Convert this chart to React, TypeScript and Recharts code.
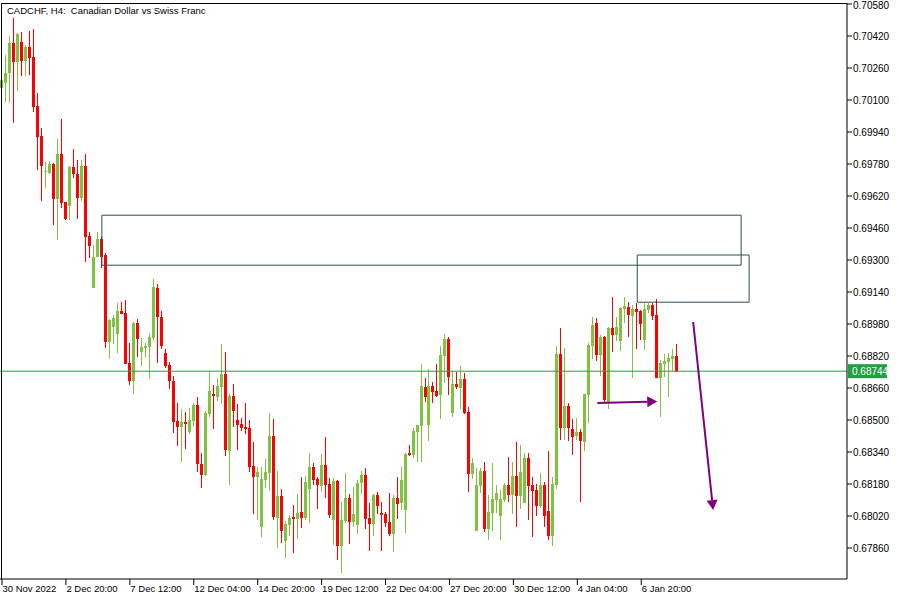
import { ComposedChart, Bar, XAxis, YAxis, ReferenceLine } from "recharts";

// H4 candles, oldest first
const opens = [
  0.7016, 0.70185, 0.70235, 0.70385, 0.7029, 0.7039, 0.70295, 0.70365, 0.70315, 0.7007,
  0.6992, 0.6974, 0.69735, 0.6978, 0.69605, 0.6983, 0.6959, 0.6957, 0.69765, 0.6973,
  0.6961, 0.6977, 0.6942, 0.6916, 0.69315, 0.69405, 0.69325, 0.6889, 0.68965, 0.6893,
  0.69045, 0.69035, 0.68785, 0.68695, 0.68985, 0.6884, 0.6886, 0.68865, 0.6891, 0.6916,
  0.69015, 0.68835, 0.68775, 0.68695, 0.68495, 0.68465, 0.6849, 0.6844, 0.68495, 0.68575,
  0.6828, 0.68225, 0.6853, 0.6863, 0.68615, 0.68665, 0.6873, 0.68345, 0.6862, 0.685,
  0.6848, 0.68465, 0.6846, 0.6827, 0.68215, 0.67965, 0.682, 0.68235, 0.6842, 0.6801,
  0.6812, 0.67895, 0.67975, 0.68015, 0.68005, 0.6804, 0.6801, 0.68155, 0.68265, 0.68205,
  0.6817, 0.68275, 0.6818, 0.68, 0.68195, 0.6787, 0.67995, 0.6811, 0.6799, 0.67975,
  0.68185, 0.68225, 0.6801, 0.6798, 0.68125, 0.68035, 0.6803, 0.6799, 0.6793, 0.6811,
  0.68085, 0.6805, 0.68335, 0.68325, 0.6844, 0.6847, 0.68665, 0.68475, 0.6867, 0.68645,
  0.68625, 0.6882, 0.68905, 0.68535, 0.6868, 0.6866, 0.68705, 0.6854, 0.6823, 0.67945,
  0.6817, 0.68245, 0.67955, 0.68035, 0.681, 0.6802, 0.681, 0.68175, 0.68125, 0.6822,
  0.6812, 0.68085, 0.6831, 0.68175, 0.6815, 0.6807, 0.68175, 0.68045, 0.6792, 0.68175,
  0.6883, 0.6846, 0.6857, 0.68455, 0.6842, 0.6844, 0.6839, 0.68625, 0.6887, 0.68985,
  0.68825, 0.68915, 0.6859, 0.6896, 0.68925, 0.68895, 0.69055, 0.69065, 0.6902, 0.69055,
  0.69045, 0.689, 0.6905, 0.69075, 0.69025, 0.6871, 0.6878, 0.6879, 0.68805, 0.6882,
];
const highs = [
  0.7026, 0.70325, 0.7042, 0.7051, 0.70435, 0.7044, 0.70375, 0.70445, 0.70455, 0.70135,
  0.6996, 0.6979, 0.69795, 0.69785, 0.69905, 0.70005, 0.6959, 0.6977, 0.69855, 0.698,
  0.698, 0.6983, 0.6944, 0.69375, 0.6944, 0.6942, 0.69335, 0.69005, 0.69025, 0.69085,
  0.6909, 0.691, 0.68885, 0.6899, 0.69005, 0.6891, 0.68885, 0.68935, 0.69205, 0.6918,
  0.69045, 0.68855, 0.6879, 0.6872, 0.68585, 0.68555, 0.6854, 0.6856, 0.68585, 0.68615,
  0.68335, 0.68545, 0.68745, 0.68675, 0.6871, 0.6888, 0.6884, 0.6863, 0.6868, 0.6858,
  0.6851, 0.68585, 0.685, 0.6839, 0.68265, 0.68265, 0.68305, 0.68535, 0.68505, 0.68245,
  0.68155, 0.67995, 0.68025, 0.68075, 0.6813, 0.68215, 0.6822, 0.68335, 0.68285, 0.68215,
  0.6833, 0.68415, 0.6821, 0.6821, 0.682, 0.6809, 0.68235, 0.6813, 0.68165, 0.682,
  0.68245, 0.6826, 0.68085, 0.6813, 0.6814, 0.6809, 0.6804, 0.68135, 0.68125, 0.68215,
  0.68265, 0.68335, 0.68375, 0.6846, 0.68475, 0.6878, 0.6871, 0.68755, 0.6869, 0.6878,
  0.6887, 0.6893, 0.68915, 0.68745, 0.6874, 0.6877, 0.68735, 0.68565, 0.6831, 0.6826,
  0.6826, 0.6829, 0.68125, 0.68285, 0.68175, 0.6815, 0.68185, 0.68315, 0.6829, 0.6839,
  0.68375, 0.68335, 0.68335, 0.68215, 0.6818, 0.68235, 0.6819, 0.68345, 0.68215, 0.6887,
  0.6896, 0.6886, 0.68585, 0.68505, 0.6851, 0.68455, 0.6863, 0.68885, 0.69015, 0.6901,
  0.68925, 0.6892, 0.68965, 0.69115, 0.69015, 0.69065, 0.69115, 0.6909, 0.69075, 0.69085,
  0.6905, 0.69085, 0.69085, 0.69085, 0.69105, 0.688, 0.6883, 0.68835, 0.68855, 0.6888,
];
const lows = [
  0.701, 0.7009, 0.70085, 0.69985, 0.70145, 0.7022, 0.7022, 0.70225, 0.7004, 0.6975,
  0.69595, 0.6966, 0.6973, 0.69475, 0.694, 0.6956, 0.695, 0.695, 0.6971, 0.69505,
  0.69595, 0.6929, 0.6931, 0.6916, 0.69315, 0.6926, 0.6886, 0.68805, 0.6888, 0.68835,
  0.6903, 0.6878, 0.68675, 0.6863, 0.68815, 0.6877, 0.68815, 0.68705, 0.689, 0.68785,
  0.68855, 0.6876, 0.68655, 0.68435, 0.6837, 0.6829, 0.68355, 0.6843, 0.6847, 0.6824,
  0.6816, 0.6822, 0.68515, 0.68455, 0.68595, 0.6858, 0.6832, 0.68175, 0.68465, 0.6835,
  0.68445, 0.6843, 0.6824, 0.6803, 0.68, 0.67915, 0.6816, 0.68145, 0.68, 0.6786,
  0.67885, 0.6781, 0.6792, 0.67835, 0.67905, 0.6796, 0.68, 0.67985, 0.68175, 0.68055,
  0.6814, 0.6811, 0.6801, 0.67875, 0.678, 0.67735, 0.67985, 0.6788, 0.67965, 0.6793,
  0.6813, 0.67955, 0.67845, 0.6792, 0.6803, 0.67845, 0.67965, 0.6792, 0.6784, 0.68005,
  0.6805, 0.67935, 0.6832, 0.6831, 0.6829, 0.6829, 0.6859, 0.68395, 0.68585, 0.68615,
  0.68505, 0.68685, 0.68625, 0.68515, 0.68655, 0.68555, 0.6853, 0.6814, 0.68205, 0.67945,
  0.68135, 0.6794, 0.679, 0.67945, 0.68035, 0.679, 0.6809, 0.6809, 0.6803, 0.67965,
  0.68055, 0.68085, 0.68, 0.67915, 0.6802, 0.6806, 0.67965, 0.679, 0.6787, 0.68155,
  0.684, 0.684, 0.68395, 0.68325, 0.684, 0.6809, 0.68345, 0.68485, 0.68805, 0.68795,
  0.6872, 0.68585, 0.68555, 0.6884, 0.68895, 0.68845, 0.68985, 0.68915, 0.6871, 0.68855,
  0.689, 0.6885, 0.69035, 0.69, 0.6871, 0.68515, 0.68715, 0.68615, 0.68745, 0.6874,
];
const closes = [
  0.702, 0.70235, 0.70385, 0.7029, 0.7043, 0.70295, 0.70365, 0.7031, 0.70065, 0.69915,
  0.6977, 0.69745, 0.6978, 0.69605, 0.6983, 0.69585, 0.69505, 0.69765, 0.6973, 0.6961,
  0.6977, 0.69415, 0.6937, 0.69315, 0.69405, 0.69315, 0.6889, 0.69, 0.6901, 0.69045,
  0.6903, 0.6878, 0.68695, 0.68985, 0.68905, 0.68865, 0.6887, 0.68915, 0.69165, 0.69015,
  0.6887, 0.6877, 0.68695, 0.6849, 0.68465, 0.6849, 0.6848, 0.685, 0.68575, 0.6828,
  0.68225, 0.68535, 0.68645, 0.6862, 0.6867, 0.6873, 0.6835, 0.6862, 0.68545, 0.68475,
  0.6846, 0.68455, 0.68265, 0.68215, 0.6824, 0.68205, 0.6824, 0.6842, 0.68015, 0.6812,
  0.67945, 0.6798, 0.6801, 0.68005, 0.68035, 0.6801, 0.6819, 0.68265, 0.682, 0.68175,
  0.68275, 0.68175, 0.68025, 0.68195, 0.6787, 0.68, 0.6811, 0.6799, 0.6803, 0.68185,
  0.68225, 0.68005, 0.6798, 0.68125, 0.6807, 0.68025, 0.67985, 0.6793, 0.6811, 0.6808,
  0.682, 0.6833, 0.68325, 0.68445, 0.68475, 0.6867, 0.68615, 0.6867, 0.6864, 0.6862,
  0.68825, 0.68905, 0.68715, 0.6868, 0.68665, 0.68705, 0.68535, 0.6823, 0.68285, 0.68175,
  0.68245, 0.67955, 0.6804, 0.68105, 0.68135, 0.68105, 0.68175, 0.68125, 0.6822, 0.6812,
  0.6824, 0.6831, 0.6817, 0.68145, 0.6807, 0.68175, 0.6802, 0.6792, 0.6818, 0.6883,
  0.6846, 0.6857, 0.6846, 0.68415, 0.6844, 0.68395, 0.6863, 0.68875, 0.68975, 0.68825,
  0.68915, 0.686, 0.6896, 0.68925, 0.68965, 0.6906, 0.6907, 0.69025, 0.69055, 0.6904,
  0.6898, 0.69055, 0.69075, 0.6902, 0.6871, 0.68785, 0.68795, 0.6881, 0.6882, 0.68744,
];

const FUTURE_BARS = 42;
const lastPrice = 0.68744;

const timeLabels = [
  "30 Nov 2022", "2 Dec 20:00", "7 Dec 12:00", "12 Dec 04:00", "14 Dec 20:00", "19 Dec 12:00",
  "22 Dec 04:00", "27 Dec 20:00", "30 Dec 12:00", "4 Jan 04:00", "6 Jan 20:00",
];
const priceTicks = [
  0.6786, 0.6802, 0.6818, 0.6834, 0.685, 0.6866, 0.6882, 0.6898, 0.6914,
  0.693, 0.6946, 0.6962, 0.6978, 0.6994, 0.701, 0.7026, 0.7042, 0.7058,
];

// supply zones drawn on the chart: bar index range and price bounds
const zones = [
  { from: 25, to: 185, top: 0.69524, bottom: 0.69274 },
  { from: 159, to: 187, top: 0.69325, bottom: 0.69089 },
];
// purple arrows: [bar index, price] start and tip
const arrows = [
  { from: [149, 0.68585], to: [164, 0.68593] },
  { from: [173, 0.6899], to: [178, 0.6805] },
];

const GREEN = "#80c342";
const RED = "#ff0000";
const FONT = "'Liberation Sans', Arial, sans-serif";

const data = [
  ...opens.map((open, i) => ({ i, open, close: closes[i], range: [lows[i], highs[i]] })),
  ...Array.from({ length: FUTURE_BARS }, (_, k) => ({ i: opens.length + k })),
];

const Candle = (props: any) => {
  const { x, y, width, height, payload } = props;
  if (!payload || payload.open == null) return null;
  const [low, high] = payload.range;
  const top = Math.min(y, y + height);
  const h = Math.abs(height);
  const k = high === low ? 0 : h / (high - low);
  const yOf = (v: number) => top + (high - v) * k;
  const up = payload.close >= payload.open;
  const color = up ? GREEN : RED;
  const cx = x + width / 2;
  const bTop = yOf(Math.max(payload.open, payload.close));
  const bBot = yOf(Math.min(payload.open, payload.close));
  return (
    <g>
      <rect x={Math.round(cx - 0.5)} y={top} width={1} height={h} fill={color} />
      <rect x={Math.round(cx - 1.5)} y={bTop} width={3} height={Math.max(1, bBot - bTop)} fill={color} />
    </g>
  );
};

const TimeTick = ({ x, y, payload }: any) => {
  const label = timeLabels[payload.value / 16];
  if (label === undefined) return null;
  return (
    <g>
      <line x1={x} y1={y} x2={x} y2={y + 6} stroke="#000" />
      <text x={x + 0.5} y={y + 13} fontSize={9.5} fontFamily={FONT} fill="#000">
        {label}
      </text>
    </g>
  );
};

const Arrow = (props: any) => {
  const { x1, y1, x2, y2 } = props;
  const a = Math.atan2(y2 - y1, x2 - x1);
  const len = 10;
  const half = 5.5;
  const bx = x2 - len * Math.cos(a);
  const by = y2 - len * Math.sin(a);
  const px = -Math.sin(a) * half;
  const py = Math.cos(a) * half;
  return (
    <g>
      <line x1={x1} y1={y1} x2={bx} y2={by} stroke="#800080" strokeWidth={2} />
      <polygon points={`${x2},${y2} ${bx + px},${by + py} ${bx - px},${by - py}`} fill="#800080" />
    </g>
  );
};

const PriceLabel = (props: any) => {
  const { viewBox } = props;
  const lx = viewBox.x + viewBox.width + 1;
  return (
    <g>
      <rect x={lx} y={viewBox.y - 7} width={39} height={14} fill="#20a040" />
      <text x={lx + 4} y={viewBox.y + 4} fontSize={10} fontFamily={FONT} fill="#fff">
        {lastPrice.toFixed(5)}
      </text>
    </g>
  );
};

export default function App() {
  return (
    <div style={{ position: "absolute", left: 0, top: 0, width: 900, height: 600, background: "#fff" }}>
      <ComposedChart width={900} height={600} data={data} margin={{ top: 3, right: 0, bottom: 0, left: 0 }}>
        <XAxis
          dataKey="i"
          type="category"
          height={21}
          interval={15}
          tickLine={false}
          tickSize={0}
          tickMargin={0}
          axisLine={{ stroke: "#000" }}
          tick={<TimeTick />}
        />
        <YAxis
          orientation="right"
          width={53}
          type="number"
          domain={[0.67705, 0.70585]}
          allowDataOverflow
          ticks={priceTicks}
          tickFormatter={(v: number) => v.toFixed(5)}
          tickSize={5}
          tickMargin={1}
          axisLine={{ stroke: "#000" }}
          tickLine={{ stroke: "#000" }}
          tick={{ fill: "#000", fontSize: 10, fontFamily: FONT }}
        />
        <Bar dataKey="range" barSize={3} shape={<Candle />} isAnimationActive={false} />
        <ReferenceLine y={lastPrice} stroke="#20a040" label={<PriceLabel />} />
        {zones.flatMap((z, zi) =>
          [
            [[z.from, z.top], [z.to, z.top]],
            [[z.to, z.top], [z.to, z.bottom]],
            [[z.to, z.bottom], [z.from, z.bottom]],
            [[z.from, z.bottom], [z.from, z.top]],
          ].map((s, si) => (
            <ReferenceLine
              key={`z${zi}-${si}`}
              segment={[{ x: s[0][0], y: s[0][1] }, { x: s[1][0], y: s[1][1] }]}
              stroke="#2f4f4f"
              strokeWidth={1}
            />
          ))
        )}
        {arrows.map((a, ai) => (
          <ReferenceLine
            key={`a${ai}`}
            segment={[{ x: a.from[0], y: a.from[1] }, { x: a.to[0], y: a.to[1] }]}
            shape={<Arrow />}
          />
        ))}
      </ComposedChart>
      <div
        style={{
          position: "absolute",
          left: 1,
          top: 3,
          width: 846,
          height: 576,
          borderLeft: "1px solid #000",
          borderTop: "1px solid #000",
          boxSizing: "border-box",
          pointerEvents: "none",
        }}
      />
      <div
        style={{
          position: "absolute",
          left: 7,
          top: 5,
          fontSize: 9.5,
          fontFamily: FONT,
          color: "#000",
          whiteSpace: "pre",
        }}
      >
        {"CADCHF, H4:  Canadian Dollar vs Swiss Franc"}
      </div>
    </div>
  );
}
